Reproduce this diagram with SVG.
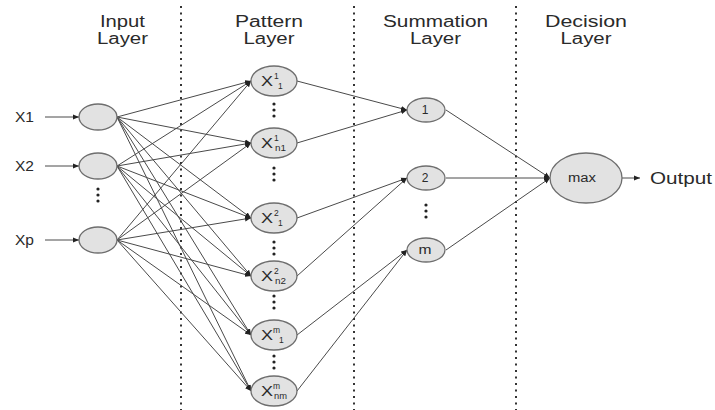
<svg xmlns="http://www.w3.org/2000/svg" width="715" height="410" viewBox="0 0 715 410">
<style>
.hd{font-family:"Liberation Sans",Arial,sans-serif;font-size:16px;fill:#2a2a2a;text-anchor:middle}
.lb{font-family:"Liberation Sans",Arial,sans-serif;font-size:14px;fill:#2a2a2a}
.nd{fill:#e2e2e2;stroke:#6e6e6e;stroke-width:1.3}
.nx{font-family:"Liberation Sans",Arial,sans-serif;font-size:14px;fill:#2a2a2a}
.sm{font-family:"Liberation Sans",Arial,sans-serif;font-size:8.5px;fill:#2a2a2a}
.nt{font-family:"Liberation Sans",Arial,sans-serif;font-size:12px;fill:#2a2a2a;text-anchor:middle}
.ed{stroke:#4a4a4a;stroke-width:1;fill:none;marker-end:url(#ah)}
.sep{stroke:#333;stroke-width:2;stroke-dasharray:2 4.5}
.dt{fill:#222}
</style>
<defs>
<marker id="ah" markerUnits="userSpaceOnUse" markerWidth="7" markerHeight="6" refX="6" refY="3" orient="auto">
<path d="M0,0.5 L6,3 L0,5.5 Z" fill="#222"/>
</marker>
</defs>
<rect width="715" height="410" fill="#fff"/>
<g id="separators">
<line class="sep" x1="181" y1="6" x2="181" y2="410"/>
<line class="sep" x1="354" y1="6" x2="354" y2="410"/>
<line class="sep" x1="516" y1="6" x2="516" y2="410"/>
</g>
<g id="headers">
<text class="hd" x="122.5" y="27" textLength="45" lengthAdjust="spacingAndGlyphs">Input</text><text class="hd" x="122.5" y="44" textLength="51" lengthAdjust="spacingAndGlyphs">Layer</text>
<text class="hd" x="269" y="27" textLength="68" lengthAdjust="spacingAndGlyphs">Pattern</text><text class="hd" x="269" y="44" textLength="51" lengthAdjust="spacingAndGlyphs">Layer</text>
<text class="hd" x="435.5" y="27" textLength="105" lengthAdjust="spacingAndGlyphs">Summation</text><text class="hd" x="435.5" y="44" textLength="51" lengthAdjust="spacingAndGlyphs">Layer</text>
<text class="hd" x="586" y="27" textLength="82" lengthAdjust="spacingAndGlyphs">Decision</text><text class="hd" x="586" y="44" textLength="51" lengthAdjust="spacingAndGlyphs">Layer</text>
</g>
<g id="connectors">
<line class="ed" x1="45" y1="117" x2="79" y2="117"/>
<line class="ed" x1="45" y1="166" x2="79" y2="166"/>
<line class="ed" x1="45" y1="240" x2="79" y2="240"/>
<line class="ed" x1="117" y1="117" x2="251" y2="81"/>
<line class="ed" x1="117" y1="117" x2="251" y2="143"/>
<line class="ed" x1="117" y1="117" x2="251" y2="218"/>
<line class="ed" x1="117" y1="117" x2="251" y2="276"/>
<line class="ed" x1="117" y1="117" x2="251" y2="335"/>
<line class="ed" x1="117" y1="117" x2="251" y2="391"/>
<line class="ed" x1="117" y1="166" x2="251" y2="81"/>
<line class="ed" x1="117" y1="166" x2="251" y2="143"/>
<line class="ed" x1="117" y1="166" x2="251" y2="218"/>
<line class="ed" x1="117" y1="166" x2="251" y2="276"/>
<line class="ed" x1="117" y1="166" x2="251" y2="335"/>
<line class="ed" x1="117" y1="166" x2="251" y2="391"/>
<line class="ed" x1="117" y1="240" x2="251" y2="81"/>
<line class="ed" x1="117" y1="240" x2="251" y2="143"/>
<line class="ed" x1="117" y1="240" x2="251" y2="218"/>
<line class="ed" x1="117" y1="240" x2="251" y2="276"/>
<line class="ed" x1="117" y1="240" x2="251" y2="335"/>
<line class="ed" x1="117" y1="240" x2="251" y2="391"/>
<line class="ed" x1="297" y1="81" x2="407" y2="110"/>
<line class="ed" x1="297" y1="143" x2="407" y2="110"/>
<line class="ed" x1="297" y1="218" x2="407" y2="178"/>
<line class="ed" x1="297" y1="276" x2="407" y2="178"/>
<line class="ed" x1="297" y1="335" x2="407" y2="250"/>
<line class="ed" x1="297" y1="391" x2="407" y2="250"/>
<line class="ed" x1="446" y1="110" x2="550" y2="178"/>
<line class="ed" x1="446" y1="178" x2="550" y2="178"/>
<line class="ed" x1="446" y1="250" x2="550" y2="178"/>
<line class="ed" x1="622" y1="178" x2="640" y2="178"/>
</g>
<g id="input-labels">
<text class="lb" x="15" y="122" textLength="19" lengthAdjust="spacingAndGlyphs">X1</text>
<text class="lb" x="15" y="171" textLength="19" lengthAdjust="spacingAndGlyphs">X2</text>
<text class="lb" x="15" y="245" textLength="19" lengthAdjust="spacingAndGlyphs">Xp</text>
</g>
<g id="in1"><ellipse class="nd" cx="98" cy="117" rx="19" ry="13"/></g>
<g id="in2"><ellipse class="nd" cx="98" cy="166" rx="19" ry="13"/></g>
<g id="in-dots"><circle class="dt" cx="98" cy="189" r="1.6"/><circle class="dt" cx="98" cy="195" r="1.6"/><circle class="dt" cx="98" cy="201" r="1.6"/></g>
<g id="inp"><ellipse class="nd" cx="98" cy="240" rx="19" ry="13"/></g>
<g id="p1"><ellipse class="nd" cx="274" cy="81" rx="23" ry="15"/><text class="nx" x="261" y="86" textLength="12" lengthAdjust="spacingAndGlyphs">X</text><text class="sm" x="274" y="79">1</text><text class="sm" x="278" y="89">1</text></g>
<g id="p2"><ellipse class="nd" cx="274" cy="143" rx="23" ry="15"/><text class="nx" x="261" y="148" textLength="12" lengthAdjust="spacingAndGlyphs">X</text><text class="sm" x="274" y="141">1</text><text class="sm" x="275" y="151" textLength="11" lengthAdjust="spacingAndGlyphs">n1</text></g>
<g id="p3"><ellipse class="nd" cx="274" cy="218" rx="23" ry="15"/><text class="nx" x="261" y="223" textLength="12" lengthAdjust="spacingAndGlyphs">X</text><text class="sm" x="274" y="216">2</text><text class="sm" x="278" y="226">1</text></g>
<g id="p4"><ellipse class="nd" cx="274" cy="276" rx="23" ry="15"/><text class="nx" x="261" y="281" textLength="12" lengthAdjust="spacingAndGlyphs">X</text><text class="sm" x="274" y="274">2</text><text class="sm" x="275" y="284" textLength="11" lengthAdjust="spacingAndGlyphs">n2</text></g>
<g id="p5"><ellipse class="nd" cx="274" cy="335" rx="23" ry="15"/><text class="nx" x="261" y="340" textLength="12" lengthAdjust="spacingAndGlyphs">X</text><text class="sm" x="273" y="333">m</text><text class="sm" x="279" y="343">1</text></g>
<g id="p6"><ellipse class="nd" cx="274" cy="391" rx="23" ry="15"/><text class="nx" x="261" y="396" textLength="12" lengthAdjust="spacingAndGlyphs">X</text><text class="sm" x="273" y="389">m</text><text class="sm" x="274" y="399" textLength="13" lengthAdjust="spacingAndGlyphs">nm</text></g>
<g id="pattern-dots">
<circle class="dt" cx="274" cy="104" r="1.6"/><circle class="dt" cx="274" cy="110" r="1.6"/><circle class="dt" cx="274" cy="116" r="1.6"/>
<circle class="dt" cx="274" cy="168" r="1.6"/><circle class="dt" cx="274" cy="174" r="1.6"/><circle class="dt" cx="274" cy="180" r="1.6"/>
<circle class="dt" cx="274" cy="242" r="1.6"/><circle class="dt" cx="274" cy="248" r="1.6"/><circle class="dt" cx="274" cy="254" r="1.6"/>
<circle class="dt" cx="274" cy="296" r="1.6"/><circle class="dt" cx="274" cy="302" r="1.6"/><circle class="dt" cx="274" cy="308" r="1.6"/>
<circle class="dt" cx="274" cy="356" r="1.6"/><circle class="dt" cx="274" cy="362" r="1.6"/><circle class="dt" cx="274" cy="368" r="1.6"/>
</g>
<g id="s1"><ellipse class="nd" cx="426" cy="110" rx="19" ry="12"/><text class="nt" x="425" y="114">1</text></g>
<g id="s2"><ellipse class="nd" cx="426" cy="178" rx="19" ry="12"/><text class="nt" x="425" y="182">2</text></g>
<g id="sum-dots"><circle class="dt" cx="426" cy="205" r="1.6"/><circle class="dt" cx="426" cy="211" r="1.6"/><circle class="dt" cx="426" cy="217" r="1.6"/></g>
<g id="sm"><ellipse class="nd" cx="426" cy="250" rx="19" ry="12"/><text class="nt" x="425" y="254" textLength="13" lengthAdjust="spacingAndGlyphs">m</text></g>
<g id="max"><ellipse class="nd" cx="586" cy="178" rx="36" ry="25"/><text class="nt" x="582" y="182" textLength="28" lengthAdjust="spacingAndGlyphs">max</text></g>
<g id="output"><text class="lb" x="650" y="184" style="font-size:17px" textLength="62" lengthAdjust="spacingAndGlyphs">Output</text></g>
</svg>
